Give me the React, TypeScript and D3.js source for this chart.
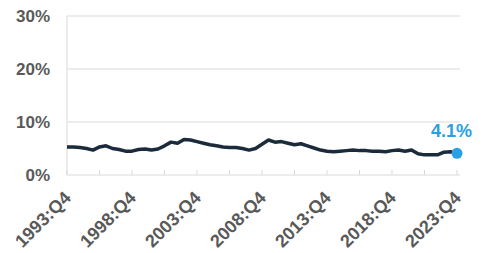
import React, { useRef, useEffect } from "react";
import * as d3 from "d3";

// semiannual readings, 1993:Q4 .. 2023:Q4 (quarter offset from 1993:Q4)
const quarterIdx = d3.range(0, 121, 2);
const rate = [
  5.3, 5.3, 5.2, 5.0, 4.7, 5.3, 5.5, 5.0, 4.8, 4.5, 4.5, 4.8, 4.9, 4.7, 4.9,
  5.5, 6.2, 6.0, 6.7, 6.6, 6.3, 6.0, 5.7, 5.5, 5.3, 5.2, 5.2, 5.0, 4.7, 5.0,
  5.8, 6.6, 6.2, 6.3, 6.0, 5.7, 5.9, 5.5, 5.1, 4.7, 4.5, 4.4, 4.5, 4.6, 4.7,
  4.6, 4.6, 4.5, 4.5, 4.4, 4.6, 4.7, 4.5, 4.7, 4.0, 3.8, 3.8, 3.8, 4.3, 4.4,
  4.1,
];
const tickLabels = ["1993:Q4", "1998:Q4", "2003:Q4", "2008:Q4", "2013:Q4", "2018:Q4", "2023:Q4"];
const yTicks = [0, 10, 20, 30];

const W = 482;
const H = 253;

export default function App() {
  const svgRef = useRef<SVGSVGElement>(null);

  useEffect(() => {
    const svg = d3.select(svgRef.current);
    svg.selectAll("*").remove();

    const x = d3.scaleLinear().domain([0, 120]).range([67, 457]);
    const y = d3.scaleLinear().domain([0, 30]).range([175, 16]);
    const grey = "#d9d9d9";
    const font = "'Liberation Sans', Arial, sans-serif";

    // gridlines
    svg
      .selectAll(".grid")
      .data(yTicks)
      .join("line")
      .attr("x1", 67)
      .attr("x2", 460)
      .attr("y1", (d) => y(d))
      .attr("y2", (d) => y(d))
      .attr("stroke", grey)
      .attr("stroke-width", 1);

    // left axis line
    svg
      .append("line")
      .attr("x1", 67)
      .attr("x2", 67)
      .attr("y1", y(30))
      .attr("y2", y(0))
      .attr("stroke", grey);

    // y labels
    svg
      .selectAll(".ylab")
      .data(yTicks)
      .join("text")
      .attr("x", 50)
      .attr("y", (d) => y(d) + 6)
      .attr("text-anchor", "end")
      .attr("font-family", font)
      .attr("font-weight", "bold")
      .attr("font-size", 17)
      .attr("fill", "#595959")
      .text((d) => `${d}%`);

    // x ticks (inside, every 10 quarters)
    svg
      .selectAll(".xtick")
      .data(d3.range(0, 121, 10))
      .join("line")
      .attr("x1", (d) => x(d))
      .attr("x2", (d) => x(d))
      .attr("y1", y(0))
      .attr("y2", y(0) - 5)
      .attr("stroke", grey);

    // x labels
    svg
      .selectAll(".xlab")
      .data(tickLabels)
      .join("text")
      .attr("transform", (_, i) => `translate(${x(i * 20) + 5},${199}) rotate(-45)`)
      .attr("text-anchor", "end")
      .attr("font-family", font)
      .attr("font-weight", "bold")
      .attr("font-size", 18)
      .attr("fill", "#595959")
      .text((d) => d);

    const line = d3
      .line<number>()
      .x((_, i) => x(quarterIdx[i]))
      .y((d) => y(d))
      .curve(d3.curveLinear);

    svg
      .append("path")
      .datum(rate)
      .attr("d", line)
      .attr("fill", "none")
      .attr("stroke", "#1b2b3b")
      .attr("stroke-width", 3.5)
      .attr("stroke-linejoin", "round");

    const last = rate[rate.length - 1];
    svg
      .append("circle")
      .attr("cx", x(quarterIdx[quarterIdx.length - 1]))
      .attr("cy", y(last))
      .attr("r", 5.5)
      .attr("fill", "#2a9fe3");

    svg
      .append("text")
      .attr("x", 431)
      .attr("y", 137)
      .attr("font-family", font)
      .attr("font-weight", "bold")
      .attr("font-size", 18)
      .attr("fill", "#2a9fe3")
      .text(`${last}%`);
  }, []);

  return (
    <svg
      ref={svgRef}
      width={W}
      height={H}
      style={{ position: "absolute", left: 0, top: 0, background: "#fff" }}
    />
  );
}
